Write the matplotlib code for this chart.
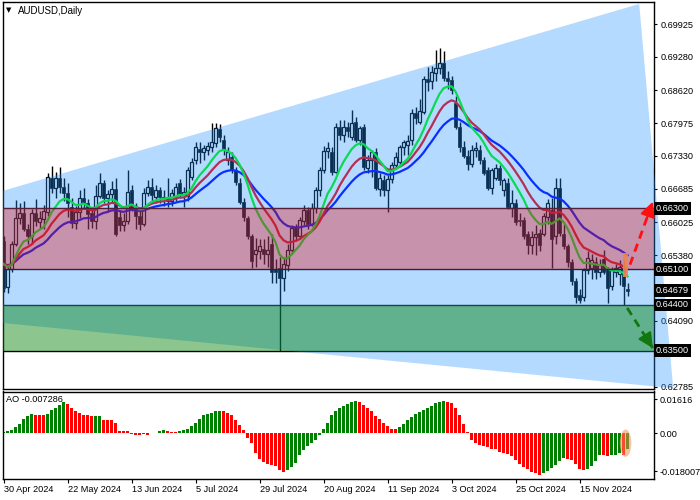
import numpy as np
import matplotlib
matplotlib.use("Agg")
import matplotlib.pyplot as plt
import pandas as pd
from matplotlib.patches import Polygon, Rectangle, Ellipse
from matplotlib.transforms import Bbox, TransformedBbox, blended_transform_factory

plt.rcParams['font.family'] = ['Liberation Sans', 'DejaVu Sans']

# ---------------- data ----------------
opens = [0.6565,0.6476,0.6510,0.6560,0.6610,0.6620,0.6590,0.6575,0.6620,0.6603,
         0.6608,0.6622,0.6690,0.6670,0.6690,0.6672,0.6660,0.6632,0.6602,0.6622,
         0.6650,0.6640,0.6620,0.6605,0.6655,0.6680,0.6650,0.6658,0.6668,0.6612,
         0.6597,0.6605,0.6665,0.6630,0.6615,0.6600,0.6660,0.6672,0.6652,0.6665,
         0.6652,0.6650,0.6645,0.6652,0.6680,0.6657,0.6655,0.6692,0.6725,0.6746,
         0.6740,0.6745,0.6750,0.6758,0.6785,0.6764,0.6725,0.6730,0.6705,0.6680,
         0.6643,0.6611,0.6575,0.6540,0.6545,0.6550,0.6540,0.6560,0.6510,0.6512,
         0.6492,0.6518,0.6548,0.6593,0.6575,0.6605,0.6627,0.6600,0.6630,0.6666,
         0.6705,0.6742,0.6741,0.6702,0.6790,0.6775,0.6790,0.6770,0.6800,0.6765,
         0.6790,0.6710,0.6725,0.6740,0.6668,0.6685,0.6665,0.6688,0.6715,0.6722,
         0.6750,0.6755,0.6764,0.6818,0.6800,0.6820,0.6885,0.6880,0.6896,0.6906,
         0.6916,0.6886,0.6883,0.6837,0.6790,0.6750,0.6732,0.6718,0.6745,0.6745,
         0.6725,0.6705,0.6670,0.6690,0.6710,0.6665,0.6680,0.6630,0.6640,0.6607,
         0.6607,0.6580,0.6557,0.6573,0.6582,0.6580,0.6612,0.6627,0.6575,0.6670,
         0.6580,0.6555,0.6525,0.6487,0.6460,0.6455,0.6509,0.6512,0.6525,0.6505,
         0.6530,0.6510,0.6477,0.6505,0.6500,0.6512,0.6472]
highs = [0.6575,0.6516,0.6566,0.6646,0.6640,0.6645,0.6600,0.6628,0.6648,0.6625,
         0.6636,0.6700,0.6714,0.6702,0.6712,0.6690,0.6680,0.6650,0.6635,0.6665,
         0.6670,0.6648,0.6632,0.6675,0.6700,0.6685,0.6665,0.6683,0.6690,0.6625,
         0.6620,0.6705,0.6675,0.6640,0.6625,0.6670,0.6685,0.6690,0.6675,0.6672,
         0.6665,0.6690,0.6668,0.6680,0.6688,0.6672,0.6712,0.6728,0.6760,0.6760,
         0.6755,0.6760,0.6798,0.6798,0.6795,0.6775,0.6750,0.6740,0.6712,0.6690,
         0.6650,0.6615,0.6580,0.6572,0.6570,0.6570,0.6575,0.6580,0.6530,0.6534,
         0.6534,0.6560,0.6598,0.6600,0.6612,0.6637,0.6632,0.6640,0.6672,0.6712,
         0.6752,0.6760,0.6750,0.6798,0.6804,0.6803,0.6800,0.6823,0.6810,0.6792,
         0.6795,0.6735,0.6745,0.6748,0.6700,0.6695,0.6695,0.6722,0.6740,0.6755,
         0.6765,0.6775,0.6825,0.6830,0.6845,0.6890,0.6908,0.6910,0.6941,0.6945,
         0.6940,0.6900,0.6890,0.6850,0.6800,0.6762,0.6745,0.6755,0.6760,0.6755,
         0.6730,0.6712,0.6710,0.6718,0.6715,0.6690,0.6690,0.6665,0.6648,0.6620,
         0.6612,0.6585,0.6585,0.6597,0.6590,0.6620,0.6648,0.6650,0.6690,0.6690,
         0.6600,0.6560,0.6530,0.6492,0.6472,0.6512,0.6545,0.6540,0.6535,0.6530,
         0.6548,0.6515,0.6515,0.6520,0.6528,0.6528,0.6483]
lows = [0.6466,0.6464,0.6505,0.6555,0.6600,0.6585,0.6560,0.6560,0.6595,0.6590,
        0.6590,0.6615,0.6660,0.6650,0.6660,0.6645,0.6613,0.6592,0.6590,0.6610,
        0.6630,0.6590,0.6592,0.6590,0.6650,0.6640,0.6625,0.6640,0.6576,0.6585,
        0.6585,0.6600,0.6625,0.6590,0.6587,0.6595,0.6655,0.6640,0.6640,0.6640,
        0.6635,0.6632,0.6635,0.6645,0.6650,0.6632,0.6645,0.6685,0.6718,0.6720,
        0.6725,0.6735,0.6740,0.6750,0.6760,0.6735,0.6715,0.6700,0.6675,0.6638,
        0.6605,0.6570,0.6512,0.6515,0.6530,0.6520,0.6515,0.6483,0.6483,0.6350,
        0.6468,0.6506,0.6540,0.6565,0.6570,0.6598,0.6590,0.6595,0.6620,0.6655,
        0.6700,0.6728,0.6695,0.6700,0.6765,0.6760,0.6770,0.6765,0.6760,0.6755,
        0.6705,0.6700,0.6692,0.6665,0.6655,0.6655,0.6623,0.6680,0.6708,0.6715,
        0.6735,0.6735,0.6755,0.6795,0.6795,0.6815,0.6860,0.6865,0.6880,0.6895,
        0.6880,0.6865,0.6855,0.6785,0.6740,0.6728,0.6705,0.6712,0.6730,0.6718,
        0.6695,0.6665,0.6658,0.6685,0.6675,0.6655,0.6628,0.6613,0.6598,0.6595,
        0.6570,0.6540,0.6540,0.6538,0.6545,0.6575,0.6600,0.6513,0.6560,0.6575,
        0.6550,0.6515,0.6480,0.6444,0.6444,0.6448,0.6500,0.6490,0.6490,0.6495,
        0.6500,0.6444,0.6470,0.6495,0.6480,0.6440,0.6457]
closes = [0.6474,0.6510,0.6560,0.6610,0.6620,0.6590,0.6575,0.6620,0.6605,0.6610,
          0.6625,0.6692,0.6670,0.6690,0.6672,0.6660,0.6640,0.6602,0.6622,0.6650,
          0.6640,0.6618,0.6605,0.6655,0.6680,0.6650,0.6658,0.6668,0.6580,0.6597,
          0.6605,0.6662,0.6630,0.6615,0.6600,0.6660,0.6672,0.6657,0.6665,0.6652,
          0.6650,0.6645,0.6660,0.6672,0.6657,0.6663,0.6705,0.6722,0.6750,0.6740,
          0.6748,0.6752,0.6760,0.6788,0.6770,0.6745,0.6740,0.6705,0.6682,0.6643,
          0.6612,0.6575,0.6526,0.6548,0.6555,0.6540,0.6548,0.6505,0.6505,0.6492,
          0.6520,0.6548,0.6592,0.6575,0.6607,0.6627,0.6600,0.6630,0.6666,0.6705,
          0.6742,0.6748,0.6702,0.6790,0.6775,0.6790,0.6783,0.6797,0.6765,0.6788,
          0.6711,0.6725,0.6740,0.6670,0.6690,0.6665,0.6688,0.6715,0.6730,0.6750,
          0.6760,0.6762,0.6818,0.6808,0.6822,0.6885,0.6878,0.6898,0.6906,0.6916,
          0.6886,0.6880,0.6863,0.6790,0.6750,0.6732,0.6718,0.6745,0.6748,0.6725,
          0.6700,0.6670,0.6705,0.6710,0.6685,0.6685,0.6633,0.6640,0.6603,0.6605,
          0.6575,0.6557,0.6573,0.6580,0.6557,0.6615,0.6640,0.6570,0.6670,0.6582,
          0.6555,0.6525,0.6487,0.6455,0.6450,0.6509,0.6532,0.6528,0.6505,0.6518,
          0.6505,0.6473,0.6510,0.6513,0.6515,0.6478,0.6468]
ao_values = [0.0006,0.0009,0.0017,0.0030,0.0046,0.0066,0.0081,0.0090,0.0089,0.0087,
             0.0085,0.0093,0.0109,0.0122,0.0133,0.0149,0.0141,0.0122,0.0105,0.0097,
             0.0088,0.0085,0.0082,0.0083,0.0084,0.0065,0.0064,0.0061,0.0050,0.0011,
             0.0010,0.0009,-0.0005,-0.0007,-0.0008,-0.0003,-0.0006,-0.0001,0.0003,0.0010,
             0.0017,0.0010,0.0008,0.0007,0.0013,0.0014,0.0020,0.0033,0.0049,0.0066,
             0.0085,0.0093,0.0098,0.0104,0.0105,0.0104,0.0098,0.0085,0.0065,0.0041,
             0.0017,-0.0021,-0.0046,-0.0093,-0.0125,-0.0137,-0.0147,-0.0153,-0.0156,-0.0175,
             -0.0183,-0.0175,-0.0160,-0.0144,-0.0104,-0.0081,-0.0059,-0.0046,-0.0030,-0.0008,
             0.0022,0.0050,0.0085,0.0106,0.0122,0.0130,0.0141,0.0150,0.0155,0.0149,
             0.0137,0.0122,0.0104,0.0084,0.0068,0.0049,0.0033,0.0022,0.0019,0.0030,
             0.0043,0.0062,0.0077,0.0090,0.0101,0.0112,0.0122,0.0128,0.0144,0.0150,
             0.0152,0.0149,0.0144,0.0122,0.0085,0.0043,0.0006,-0.0030,-0.0046,-0.0054,
             -0.0060,-0.0065,-0.0073,-0.0077,-0.0090,-0.0096,-0.0100,-0.0109,-0.0128,-0.0147,
             -0.0160,-0.0172,-0.0183,-0.0188,-0.0199,-0.0190,-0.0178,-0.0165,-0.0150,-0.0132,
             -0.0118,-0.0121,-0.0127,-0.0145,-0.0172,-0.0175,-0.0168,-0.0155,-0.0132,-0.0104,
             -0.0106,-0.0108,-0.0106,-0.0102,-0.0094,-0.0104,-0.0073]

date_tick_bars = [0, 16, 32, 48, 64, 80, 96, 112, 128, 144]
date_labels = ['30 Apr 2024', '22 May 2024', '13 Jun 2024', '5 Jul 2024', '29 Jul 2024',
               '20 Aug 2024', '11 Sep 2024', '3 Oct 2024', '25 Oct 2024', '15 Nov 2024']
price_ticks = [0.69925, 0.69280, 0.68620, 0.67975, 0.67330, 0.66685, 0.66025,
               0.65380, 0.64090, 0.62785]
ao_ticks = [0.01616, 0.0, -0.018007]
ao_tick_labels = ['0.01616', '0.00', '-0.018007']
level_lines = [0.66300, 0.65100, 0.64400, 0.63500]
bid_price = 0.64679
ao_last_text = 'AO -0.007286'
pink_zone = (0.65100, 0.66300)
green_zone = (0.63500, 0.64400)
triangle_bars = [-84.6, 158.9, 167.4]
triangle_prices = [0.6469, 0.7032, 0.6276]
ma_periods = [13, 8, 5]
ma_colors = ['#0000FF', '#FF0000', '#00FF00']
up_arrow_bars, up_arrow_prices = [156.6, 162.3], [0.6519, 0.6643]
down_arrow_bars, down_arrow_prices = [155.9, 162.3], [0.6434, 0.6355]
highlight_bars, highlight_prices = [154.8, 156.2], [0.6495, 0.6542]

# ---------------- figure ----------------
W, Hh = 700, 500
fig = plt.figure(figsize=(7, 5), dpi=100)
fig.patch.set_facecolor('white')

def px_rect(x0, y0, x1, y1):
    return [x0 / W, 1 - y1 / Hh, (x1 - x0) / W, (y1 - y0) / Hh]

ax = fig.add_axes(px_rect(2.5, 2, 654, 389))
ax2 = fig.add_axes(px_rect(2.5, 391.5, 654, 479))

O = np.array(opens); Hi = np.array(highs); Lo = np.array(lows); C = np.array(closes)
n = len(C)
x = np.arange(n)
ax.set_xlim(-0.25, 162.6)
ax.set_ylim(0.62745, 0.70358)
ax2.set_xlim(-0.25, 162.6)
ax2.set_ylim(-0.0218, 0.0199)

# candles
body_lo = np.minimum(O, C)
body_hi = np.maximum(O, C)
bull = C >= O
ax.vlines(x, body_hi, Hi, color='black', lw=1, zorder=2)
ax.vlines(x, Lo, body_lo, color='black', lw=1, zorder=2)
hgt = np.maximum(body_hi - body_lo, 0.00004)
ax.bar(x[~bull], hgt[~bull], bottom=body_lo[~bull], width=0.72, color='black',
       edgecolor='black', lw=0.5, zorder=2)
ax.bar(x[bull], hgt[bull], bottom=body_lo[bull], width=0.6, facecolor='white',
       edgecolor='black', lw=0.9, zorder=2)

# moving averages (smoothed, median price)
median = pd.Series((Hi + Lo) / 2)
for p, col in zip(ma_periods, ma_colors):
    ma = median.ewm(alpha=1.0 / p, adjust=False).mean()
    ax.plot(x, ma, color=col, lw=1.6, zorder=3)

for lv in level_lines:
    ax.axhline(lv, color='black', lw=1, zorder=3.5)

# triangle overlay (extends over the price scale on the right)
tri = Polygon(np.column_stack([triangle_bars, triangle_prices]), closed=True,
              facecolor='#1E90FF', alpha=0.33, lw=0, zorder=4)
ax.add_patch(tri)
tri.set_clip_box(TransformedBbox(Bbox([[0, 0], [1.04, 1]]), ax.transAxes))

ax.axhspan(*pink_zone, color='#F00000', alpha=0.33, lw=0, zorder=5)
ax.axhspan(*green_zone, color='#008005', alpha=0.45, lw=0, zorder=5)

# highlight on last bar
ax.add_patch(Rectangle((highlight_bars[0], highlight_prices[0]),
                       highlight_bars[1] - highlight_bars[0],
                       highlight_prices[1] - highlight_prices[0],
                       facecolor='#EE8550', alpha=0.9, lw=0, zorder=6))

# arrows
for bx, py, col in [(up_arrow_bars, up_arrow_prices, '#FF1010'),
                    (down_arrow_bars, down_arrow_prices, '#10780F')]:
    ax.plot(bx, py, color=col, lw=2, ls=(0, (3, 2)), zorder=7, solid_capstyle='butt')
    t = 0.75
    ax.annotate('', xy=(bx[1], py[1]),
                xytext=(bx[0] + t * (bx[1] - bx[0]), py[0] + t * (py[1] - py[0])),
                arrowprops=dict(arrowstyle='-|>,head_length=0.9,head_width=0.45',
                                color=col, lw=1.5, shrinkA=0, shrinkB=0),
                zorder=7, annotation_clip=False)

# right price axis
ax.yaxis.tick_right()
ax.set_yticks(price_ticks)
ax.set_yticklabels([f'{v:.5f}' for v in price_ticks])
ax.tick_params(axis='y', direction='out', length=2.2, width=0.8, pad=2.5,
               labelsize=6.6, colors='black')
ax.set_xticks([])
for s in ax.spines.values():
    s.set_color('black'); s.set_linewidth(1)

tr = blended_transform_factory(ax.transAxes, ax.transData)
for v in level_lines + [bid_price]:
    ax.text(1.003, v, f'{v:.5f}', transform=tr, ha='left', va='center',
            fontsize=6.6, color='white', zorder=10, clip_on=False,
            bbox=dict(boxstyle='square,pad=0.2', fc='black', ec='black', lw=0))

# AO panel
ao = np.array(ao_values)
ao_colors = ['#008000'] + ['#008000' if ao[i] > ao[i - 1] else '#FF0000' for i in range(1, n)]
ax2.bar(x, ao, width=0.72, color=ao_colors, lw=0, zorder=2)
ax2.add_patch(Ellipse((155.5, -0.0047), 2.6, 0.0125, facecolor='#F09050',
                      alpha=0.55, edgecolor='#F5B090', lw=0.8, zorder=3))
ax2.yaxis.tick_right()
ax2.set_yticks(ao_ticks)
ax2.set_yticklabels(ao_tick_labels)
ax2.tick_params(axis='y', direction='out', length=2.2, width=0.8, pad=2,
                labelsize=6.6, colors='black')
ax2.set_xticks(date_tick_bars)
ax2.set_xticklabels(date_labels)
ax2.tick_params(axis='x', direction='out', length=3, width=0.8, pad=1,
                labelsize=6.6, colors='black')
for lbl in ax2.get_xticklabels():
    lbl.set_horizontalalignment('left')
for s in ax2.spines.values():
    s.set_color('black'); s.set_linewidth(1)
ax2.text(0.006, 0.91, ao_last_text, transform=ax2.transAxes, fontsize=6.6,
         ha='left', va='center', color='black')

fig.text(5.5 / W, 1 - 10.5 / Hh, '\u25BC', fontsize=5, ha='left', va='center',
         family=['DejaVu Sans'])
fig.text(17.5 / W, 1 - 10.5 / Hh, 'AUDUSD,Daily', fontsize=7, ha='left', va='center')

fig.savefig('out.png', dpi=100)
